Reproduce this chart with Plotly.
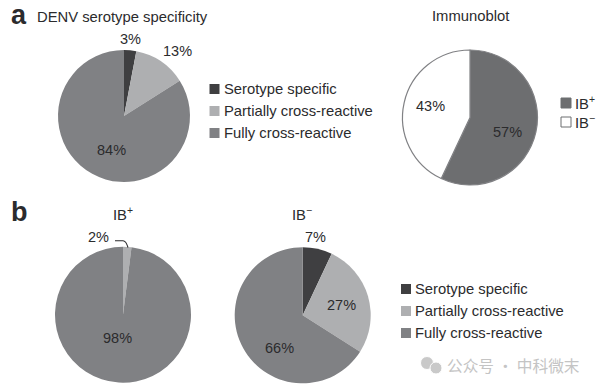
import plotly.graph_objects as go

W, H = 600, 389
FONT = "Liberation Sans"
TEXT = "#2b2b2d"

# Data
categories = ["Serotype specific", "Partially cross-reactive", "Fully cross-reactive"]
denv_values = [3, 13, 84]
ib_categories = ["IB<sup>+</sup>", "IB<sup>−</sup>"]
ib_values = [57, 43]
ib_pos_values = [0, 2, 98]
ib_neg_values = [7, 27, 66]

# Style
cat_colors = ["#3f3f41", "#aeafb1", "#808184"]
ib_colors = ["#6d6e70", "#ffffff"]


def px(x):
    return x / W


def py(y):
    return 1 - y / H


def domain(cx, cy, r):
    return dict(x=[px(cx - r), px(cx + r)], y=[py(cy + r), py(cy - r)])


def pie(labels, values, colors, cx, cy, r, line=None, width=0):
    return go.Pie(
        labels=labels, values=values, sort=False, direction="clockwise", rotation=0,
        domain=domain(cx, cy, r), textinfo="none", hoverinfo="label+percent",
        showlegend=False,
        marker=dict(colors=colors, line=dict(color=line or "rgba(0,0,0,0)", width=width)),
    )


fig = go.Figure()
fig.add_trace(pie(categories, denv_values, cat_colors, 124, 116, 66))
fig.add_trace(pie(ib_categories, ib_values, ib_colors, 470, 117.5, 67.5, "#808184", 1.2))
fig.add_trace(pie(categories, ib_pos_values, cat_colors, 123, 314.7, 68))
fig.add_trace(pie(categories, ib_neg_values, cat_colors, 302.7, 315.3, 68))

ann = []


def text(x, y, s, size=14.5, anchor="center", color=TEXT, **font):
    ann.append(dict(
        x=px(x), y=py(y), xref="paper", yref="paper", text=s, showarrow=False,
        xanchor=anchor, yanchor="middle", borderpad=0,
        font=dict(family=font.get("family", FONT), size=size, color=color),
    ))


# Panel letters and titles
text(10, 15, "<b>a</b>", size=27, anchor="left")
text(10, 212, "<b>b</b>", size=27, anchor="left")
text(36, 17, "DENV serotype specificity", size=14.8, anchor="left")
text(470, 16, "Immunoblot", size=14.8)
text(123, 214, "IB<sup>+</sup>", size=14.8)
text(302, 214, "IB<sup>−</sup>", size=14.8)

# Percent labels
label_pos = {
    "denv": [(130, 39), (177, 51), (111, 150)],
    "ib": [(507, 132), (430, 106)],
    "pos": [None, (98, 237), (117, 338)],
    "neg": [(315, 237), (342, 305), (279, 348)],
}
for key, vals in [("denv", denv_values), ("ib", ib_values),
                  ("pos", ib_pos_values), ("neg", ib_neg_values)]:
    for p, v in zip(label_pos[key], vals):
        if p is not None:
            text(p[0], p[1], f"{v}%", size=14.5)

# Legends
shapes = []


def legend(x, ys, labels, colors, outline=None):
    for y, lab, col in zip(ys, labels, colors):
        shapes.append(dict(
            type="rect", xref="paper", yref="paper",
            x0=px(x), x1=px(x + 10), y0=py(y + 5), y1=py(y - 5),
            fillcolor=col, line=dict(color=outline or col, width=1 if outline else 0),
        ))
        text(x + 13, y, lab, size=14.8, anchor="left")


legend(209.5, [89, 111, 133], categories, cat_colors)
legend(401, [289, 311, 333], categories, cat_colors)
legend(561, [103, 122], ib_categories, ib_colors, outline="#6d6e70")

# Leader line for 2%
x0, x1, x2 = px(115), px(123), px(128)
y0, y1 = py(240.7), py(247.5)
shapes.append(dict(
    type="path", xref="paper", yref="paper",
    path=f"M {x0} {y0} L {x1} {y0} Q {px(126)} {y0} {x2} {y1}",
    line=dict(color="#2b2b2d", width=1.1),
))

# Watermark
mark = "#c9c9c9"
for cx, cy, r in [(427, 363, 6.5), (436, 368, 6)]:
    shapes.append(dict(
        type="circle", xref="paper", yref="paper",
        x0=px(cx - r), x1=px(cx + r), y0=py(cy + r), y1=py(cy - r),
        fillcolor=mark, line=dict(width=1, color="white"),
    ))
text(446, 365, "公众号 · 中科微末", size=15.7, anchor="left", color="#c4c4c4",
     family="Noto Sans CJK SC")

fig.update_layout(
    width=W, height=H, margin=dict(l=0, r=0, t=0, b=0),
    paper_bgcolor="white", plot_bgcolor="white",
    font=dict(family=FONT), annotations=ann, shapes=shapes,
)
fig.write_html(
    "out.html", config=dict(displayModeBar=False),
    post_script="document.body.style.margin='0';document.body.style.overflow='hidden';",
)
